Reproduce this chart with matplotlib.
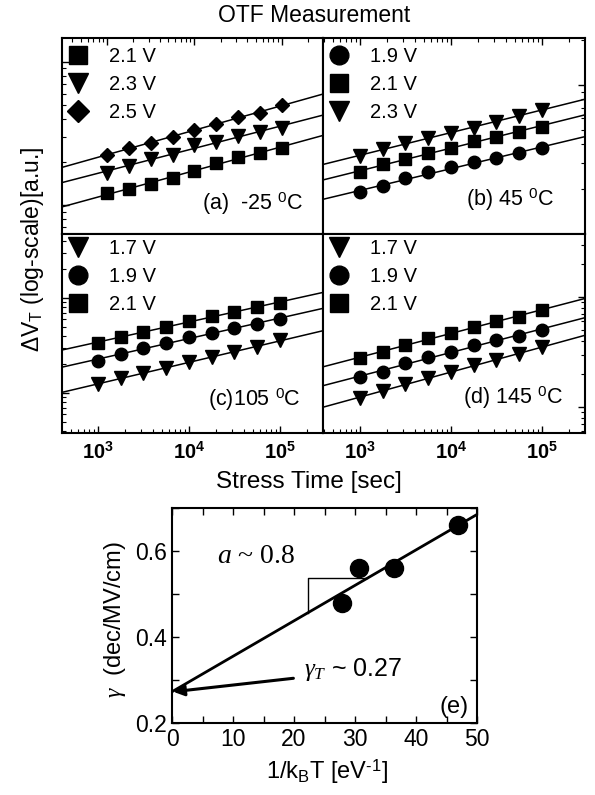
import numpy as np
import matplotlib
matplotlib.use('Agg')
import matplotlib.pyplot as plt
import matplotlib.ticker as mticker

plt.rcParams['font.family'] = ['Liberation Sans', 'DejaVu Sans']
plt.rcParams['mathtext.fontset'] = 'custom'
plt.rcParams['mathtext.rm'] = 'Liberation Sans'
plt.rcParams['mathtext.it'] = 'Liberation Serif:italic'
plt.rcParams['mathtext.bf'] = 'Liberation Sans:bold'
plt.rcParams['axes.unicode_minus'] = False

# stress times [sec]
t = [1000, 1780, 3160, 5620, 10000, 17800, 31600, 56200, 100000]

# delta VT [a.u.] per temperature and stress voltage
a_21 = [1.21, 1.29, 1.40, 1.55, 1.73, 1.97, 2.17, 2.31, 2.51]
a_23 = [1.68, 1.88, 2.10, 2.24, 2.63, 2.76, 3.04, 3.24, 3.45]
a_25 = [2.24, 2.51, 2.72, 2.99, 3.34, 3.68, 4.12, 4.40, 5.00]

b_19 = [1.91, 2.09, 2.36, 2.59, 2.80, 3.02, 3.21, 3.47, 3.80]
b_21 = [2.59, 2.93, 3.16, 3.47, 3.80, 4.17, 4.50, 4.86, 5.25]
b_23 = [3.31, 3.69, 4.10, 4.43, 4.79, 5.16, 5.66, 6.21, 6.81]

c_17 = [1.24, 1.44, 1.62, 1.83, 2.12, 2.39, 2.70, 3.05, 3.61]
c_19 = [2.17, 2.58, 2.98, 3.36, 3.88, 4.28, 4.83, 5.32, 6.01]
c_21 = [3.36, 3.88, 4.39, 4.95, 5.73, 6.47, 7.13, 8.04, 8.86]

d_17 = [1.21, 1.40, 1.62, 1.84, 2.08, 2.41, 2.67, 3.03, 3.51]
d_19 = [1.87, 2.08, 2.51, 2.85, 3.16, 3.66, 4.06, 4.42, 5.01]
d_21 = [2.79, 3.16, 3.66, 4.24, 4.71, 5.34, 6.05, 6.58, 7.62]

# gamma vs 1/kT
inv_kT = [27.8, 30.7, 36.4, 46.9]
gamma = [0.48, 0.56, 0.56, 0.66]

W, H = 595., 795.
fig = plt.figure(figsize=(W / 100, H / 100), dpi=100)


def box(x0, y0, x1, y1):
    return [x0 / W, 1 - y1 / H, (x1 - x0) / W, (y1 - y0) / H]


def panel(rect, series, xlim, ylim, label, labelpos, legtop, sides):
    ax = fig.add_axes(rect)
    ax.set_xscale('log')
    ax.set_yscale('log')
    handles = []
    for ydata, marker, ms, name in series:
        lx = np.log10(t)
        ly = np.log10(ydata)
        p = np.polyfit(lx, ly, 1)
        xx = np.log10(np.array(xlim))
        ax.plot(10 ** xx, 10 ** np.polyval(p, xx), color='black', lw=1.1)
        h, = ax.plot(t, ydata, linestyle='none', marker=marker, ms=ms,
                     color='black', label=name)
        handles.append(h)
    ax.set_xlim(xlim)
    ax.set_ylim(ylim)
    hpx = rect[3] * H
    ax.legend(handles=handles, loc='upper left', frameon=False, fontsize=14.5,
              bbox_to_anchor=(3 / (rect[2] * W), 1 - legtop / hpx),
              markerscale=1.5, handlelength=0.9, handletextpad=1.1,
              labelspacing=0.45, borderaxespad=0, borderpad=0.2)
    ax.text(labelpos[0], labelpos[1], label, transform=ax.transAxes,
            ha='right', va='center', fontsize=15.5)
    ax.xaxis.set_major_locator(mticker.FixedLocator([1e3, 1e4, 1e5]))
    ax.xaxis.set_major_formatter(mticker.FuncFormatter(
        lambda v, pos: r'$\mathbf{10^{%d}}$' % round(np.log10(v))))
    ax.xaxis.set_minor_formatter(mticker.NullFormatter())
    ax.yaxis.set_major_formatter(mticker.NullFormatter())
    ax.yaxis.set_minor_formatter(mticker.NullFormatter())
    ax.tick_params(which='both', direction='in', left=False, right=False,
                   top=False, bottom=False, labelleft=False, labelbottom=False)
    ax.tick_params(which='major', length=5, width=1)
    ax.tick_params(which='minor', length=3, width=0.8)
    ax.tick_params(which='both', **sides)
    ax.tick_params(axis='x', labelsize=14.5, pad=6)
    for s in ax.spines.values():
        s.set_linewidth(1.5)
    return ax


panel(box(62, 38, 323, 234),
      [(a_21, 's', 8.5, '2.1 V'), (a_23, 'v', 9.5, '2.3 V'), (a_25, 'D', 7.5, '2.5 V')],
      (306, 2.95e5), (0.627, 14.7), r'(a)  -25 $^\mathrm{0}$C', (0.925, 0.155), 5,
      dict(left=True, top=True))
panel(box(323, 38, 585, 234),
      [(b_19, 'o', 9, '1.9 V'), (b_21, 's', 8.5, '2.1 V'), (b_23, 'v', 9.5, '2.3 V')],
      (392, 2.97e5), (1.0, 20.6), r'(b) 45 $^\mathrm{0}$C', (0.88, 0.175), 5,
      dict(top=True, right=True))
panel(box(62, 234, 323, 433),
      [(c_17, 'v', 9.5, '1.7 V'), (c_19, 'o', 9, '1.9 V'), (c_21, 's', 8.5, '2.1 V')],
      (402, 2.97e5), (0.379, 47.2), r'(c)105 $^\mathrm{0}$C', (0.915, 0.165), 1,
      dict(left=True, bottom=True, labelbottom=True))
panel(box(323, 234, 585, 433),
      [(d_17, 'v', 9.5, '1.7 V'), (d_19, 'o', 9, '1.9 V'), (d_21, 's', 8.5, '2.1 V')],
      (392, 2.97e5), (0.58, 37.4), r'(d) 145 $^\mathrm{0}$C', (0.915, 0.175), 1,
      dict(right=True, bottom=True, labelbottom=True))

fig.text(314 / W, 1 - 15 / H, 'OTF Measurement', ha='center', va='center', fontsize=16.5)
fig.text(33 / W, 1 - 249 / H, r'ΔV$_\mathrm{T}$ (log-scale)[a.u.]', rotation=90,
         ha='center', va='center', fontsize=16.5)
fig.text(309 / W, 1 - 482 / H, 'Stress Time [sec]', ha='center', va='center', fontsize=17.5)

# gamma vs 1/kT
ax = fig.add_axes(box(172, 508, 477, 723))
p = np.polyfit(inv_kT, gamma, 1)
xx = np.array([0, 50])
ax.plot(xx, np.polyval(p, xx), color='black', lw=2)
ax.plot(inv_kT, gamma, 'o', color='black', ms=13)

# slope triangle
x1, x2 = 22.3, 32.0
ax.plot([x1, x1, x2], [np.polyval(p, x1), np.polyval(p, x2), np.polyval(p, x2)],
        color='black', lw=1)
ax.text(7.3, 0.588, r'$a$ ~ 0.8', fontsize=20, family='Liberation Serif',
        ha='left', va='center')

ax.annotate('', xy=(0.2, np.polyval(p, 0)), xytext=(19.9, 0.304),
            arrowprops=dict(arrowstyle='-|>', lw=2.2, color='black',
                            mutation_scale=16, shrinkA=0, shrinkB=0))
ax.text(21.6, 0.325, r'$\gamma_T$ ~ 0.27', fontsize=18, ha='left', va='center')
ax.text(48.6, 0.237, '(e)', fontsize=17, ha='right', va='center')

ax.set_xlim(0, 50)
ax.set_ylim(0.2, 0.7)
ax.xaxis.set_major_locator(mticker.MultipleLocator(10))
ax.xaxis.set_minor_locator(mticker.MultipleLocator(5))
ax.yaxis.set_major_locator(mticker.FixedLocator([0.2, 0.4, 0.6]))
ax.yaxis.set_minor_locator(mticker.MultipleLocator(0.1))
ax.yaxis.set_major_formatter(mticker.FormatStrFormatter('%.1f'))
ax.tick_params(which='both', direction='in', top=True, right=True, labelsize=16.5)
ax.tick_params(which='major', length=5, width=1)
ax.tick_params(which='minor', length=5, width=1)
for s in ax.spines.values():
    s.set_linewidth(1.5)

fig.text(115 / W, 1 - 620 / H, r'$\gamma$  (dec/MV/cm)', rotation=90,
         ha='center', va='center', fontsize=17)
fig.text(327 / W, 1 - 772 / H, r'1/k$_\mathrm{B}$T [eV$^{\text{-1}}$]',
         ha='center', va='center', fontsize=17)

fig.savefig('out.png', dpi=100)
